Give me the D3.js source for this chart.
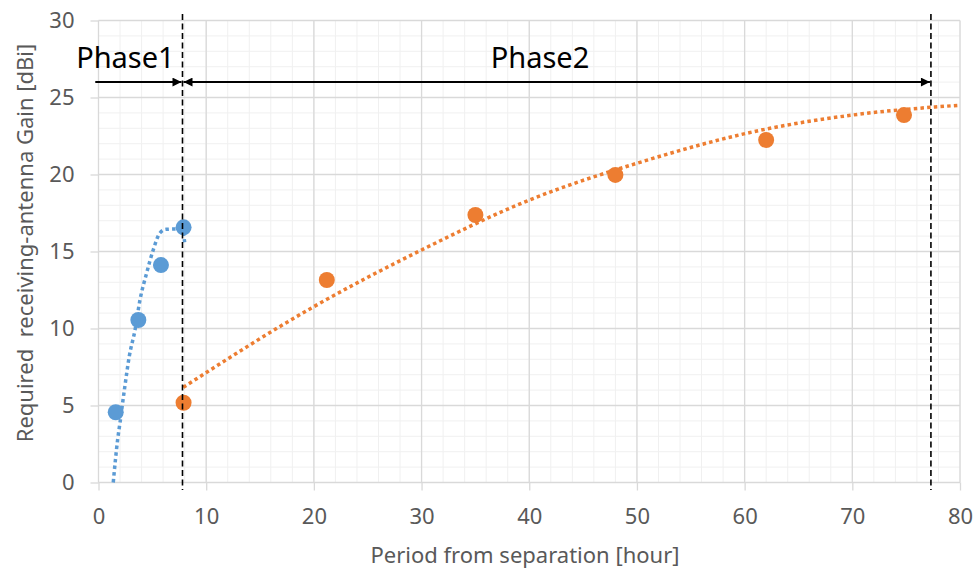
<!doctype html>
<html>
<head>
<meta charset="UTF-8">
<title>Required receiving-antenna gain</title>
<script src="https://cdn.jsdelivr.net/npm/d3@7"></script>
<style>
  body { margin: 0; background: #fff; }
  text { font-family: "Noto Sans", "Open Sans", sans-serif; }
</style>
</head>
<body>
<svg width="976" height="571" id="chart"></svg>
<script>
// measured points
var phase1Hours = [1.6, 3.7, 5.8, 7.9];
var phase1Gain  = [4.56, 10.55, 14.12, 16.57];
var phase2Hours = [7.9, 21.2, 35.0, 48.0, 62.0, 74.8];
var phase2Gain  = [5.18, 13.15, 17.37, 19.97, 22.24, 23.86];

// dotted trend curves
var trend1Hours = [1.37, 1.78, 2.0, 2.4, 2.86, 3.39, 3.85, 4.47, 5.08, 5.7, 6.26, 7.25, 7.8, 8.0];
var trend1Gain  = [0.0, 2.8, 3.9, 6.0, 8.2, 9.9, 11.85, 13.6, 15.1, 16.2, 16.44, 16.46, 16.4, 15.6];
var trend2Hours = [7.87, 20, 30, 40, 50, 62, 70, 80];
var trend2Gain  = [6.18, 11.42, 15.1, 18.34, 20.73, 22.95, 23.86, 24.5];

// phase boundaries and labels
var phaseNames  = ["Phase1", "Phase2"];
var phaseStart  = [-0.3, 7.8];
var phaseEnd    = [7.8, 77.3];
var phaseLabelX = [2.5, 41.0];
var boundaries  = [7.8, 77.3];

var xTicks = [0, 10, 20, 30, 40, 50, 60, 70, 80];
var yTicks = [0, 5, 10, 15, 20, 25, 30];

var svg = d3.select("#chart");
var pLeft = 98.5, pRight = 960, pTop = 20.5, pBottom = 482.5;

var x = d3.scaleLinear().domain([0, 80]).range([pLeft, pRight]);
var y = d3.scaleLinear().domain([0, 30]).range([pBottom, pTop]);

// grid
var grid = svg.append("g");
grid.selectAll(".vminor").data(d3.range(0, 81, 2)).enter().append("line")
  .attr("x1", d => x(d)).attr("x2", d => x(d)).attr("y1", pTop).attr("y2", pBottom)
  .attr("stroke", "#f0f0f0").attr("stroke-width", 1);
grid.selectAll(".hminor").data(d3.range(0, 31, 1)).enter().append("line")
  .attr("y1", d => y(d)).attr("y2", d => y(d)).attr("x1", pLeft).attr("x2", pRight)
  .attr("stroke", "#f0f0f0").attr("stroke-width", 1);
grid.selectAll(".vmajor").data(xTicks).enter().append("line")
  .attr("x1", d => x(d)).attr("x2", d => x(d)).attr("y1", pTop).attr("y2", pBottom)
  .attr("stroke", "#d9d9d9").attr("stroke-width", 1.3);
grid.selectAll(".hmajor").data(yTicks).enter().append("line")
  .attr("y1", d => y(d)).attr("y2", d => y(d)).attr("x1", pLeft).attr("x2", pRight)
  .attr("stroke", "#d9d9d9").attr("stroke-width", 1.3);

// axes
var xAxis = svg.append("g").attr("transform", "translate(0," + pBottom + ")")
  .call(d3.axisBottom(x).tickValues(xTicks).tickSize(8).tickPadding(18));
var yAxis = svg.append("g").attr("transform", "translate(" + pLeft + ",0)")
  .call(d3.axisLeft(y).tickValues(yTicks).tickSize(8).tickPadding(16));
[xAxis, yAxis].forEach(function(a) {
  a.select(".domain").remove();
  a.selectAll("line").attr("stroke", "#d9d9d9").attr("stroke-width", 1.3);
  a.selectAll("text").attr("fill", "#595959").attr("font-size", 22)
    .attr("font-family", "Noto Sans");
});

// axis titles
svg.append("text")
  .attr("x", 525).attr("y", 563)
  .attr("text-anchor", "middle").attr("font-size", 22).attr("fill", "#595959")
  .text("Period from separation [hour]");
svg.append("text")
  .attr("transform", "translate(25,243) rotate(-90)")
  .attr("dy", "0.35em")
  .attr("text-anchor", "middle").attr("font-size", 22).attr("fill", "#595959")
  .text("Required\u00a0 receiving-antenna Gain [dBi]");

// trend lines
var line = d3.line().x(d => x(d[0])).y(d => y(d[1])).curve(d3.curveMonotoneX);
svg.append("path")
  .datum(d3.zip(trend1Hours, trend1Gain))
  .attr("d", line).attr("fill", "none")
  .attr("stroke", "#5b9bd5").attr("stroke-width", 3.5).attr("stroke-dasharray", "3.5 3.2");
svg.append("path")
  .datum(d3.zip(trend2Hours, trend2Gain))
  .attr("d", line).attr("fill", "none")
  .attr("stroke", "#ed7d31").attr("stroke-width", 3.5).attr("stroke-dasharray", "3.5 3.2");

// markers
svg.selectAll(".p1").data(d3.zip(phase1Hours, phase1Gain)).enter().append("circle")
  .attr("cx", d => x(d[0])).attr("cy", d => y(d[1])).attr("r", 8).attr("fill", "#5b9bd5");
svg.selectAll(".p2").data(d3.zip(phase2Hours, phase2Gain)).enter().append("circle")
  .attr("cx", d => x(d[0])).attr("cy", d => y(d[1])).attr("r", 8).attr("fill", "#ed7d31");

// phase boundaries
svg.selectAll(".bound").data(boundaries).enter().append("line")
  .attr("x1", d => x(d)).attr("x2", d => x(d)).attr("y1", 14).attr("y2", 490)
  .attr("stroke", "#000").attr("stroke-width", 1.6).attr("stroke-dasharray", "6 3.5");

// arrows
var defs = svg.append("defs");
defs.append("marker").attr("id", "head")
  .attr("viewBox", "0 0 10 10").attr("refX", 10).attr("refY", 5)
  .attr("markerWidth", 11).attr("markerHeight", 9).attr("markerUnits", "userSpaceOnUse")
  .attr("orient", "auto-start-reverse")
  .append("path").attr("d", "M0,0 L10,5 L0,10 Z").attr("fill", "#000");

var arrowY = y(26);
phaseNames.forEach(function(name, i) {
  var a = svg.append("line")
    .attr("x1", x(phaseStart[i]) + (i === 0 ? 0 : 1))
    .attr("x2", x(phaseEnd[i]) - 1)
    .attr("y1", arrowY).attr("y2", arrowY)
    .attr("stroke", "#000").attr("stroke-width", 2)
    .attr("marker-end", "url(#head)");
  if (i > 0) a.attr("marker-start", "url(#head)");
  svg.append("text")
    .attr("x", x(phaseLabelX[i])).attr("y", 68)
    .attr("text-anchor", "middle").attr("font-size", 29).attr("fill", "#000")
    .text(name);
});
</script>
</body>
</html>
